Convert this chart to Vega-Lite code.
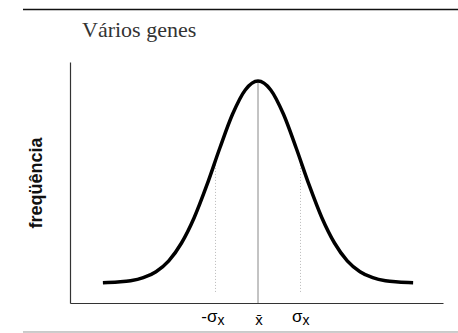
{
  "$schema": "https://vega.github.io/schema/vega-lite/v6.json",
  "width": 373,
  "height": 241,
  "autosize": {"type": "none"},
  "padding": {"left": 70, "top": 62, "right": 15, "bottom": 30},
  "background": "white",
  "title": {"text": "Vários genes", "anchor": "start", "frame": "group", "dx": 12, "offset": -55, "baseline": "bottom", "font": "Liberation Serif", "fontSize": 22, "fontWeight": "normal", "color": "#333333"},
  "config": {"view": {"stroke": null}},
  "datasets": {
    "curve": [
      {"x": -3.65, "y": 0.084}, {"x": -3.3, "y": 0.087}, {"x": -3.0, "y": 0.092}, {"x": -2.7, "y": 0.105},
      {"x": -2.4, "y": 0.130}, {"x": -2.1, "y": 0.175}, {"x": -1.8, "y": 0.249}, {"x": -1.5, "y": 0.355},
      {"x": -1.2, "y": 0.491}, {"x": -0.9, "y": 0.642}, {"x": -0.6, "y": 0.783}, {"x": -0.3, "y": 0.884},
      {"x": 0, "y": 0.921},
      {"x": 0.3, "y": 0.884}, {"x": 0.6, "y": 0.783}, {"x": 0.9, "y": 0.642}, {"x": 1.2, "y": 0.491},
      {"x": 1.5, "y": 0.355}, {"x": 1.8, "y": 0.249}, {"x": 2.1, "y": 0.175}, {"x": 2.4, "y": 0.130},
      {"x": 2.7, "y": 0.105}, {"x": 3.0, "y": 0.092}, {"x": 3.3, "y": 0.087}, {"x": 3.65, "y": 0.084}
    ],
    "mean": [{"x": 0, "y": 0, "y2": 0.921}],
    "sd": [{"x": -1, "y": 0.046, "y2": 0.585}, {"x": 1, "y": 0.046, "y2": 0.585}],
    "frameTop": [{"x": -5.53, "x2": 4.71, "y": 1.218}],
    "frameBottom": [{"x": -5.53, "x2": 4.71, "y": -0.1203}],
    "sigmaMain": [{"x": -1, "y": -0.079, "t": "-σ"}, {"x": 1, "y": -0.079, "t": "σ"}],
    "sigmaSub": [{"x": -1, "y": -0.091, "t": "x"}, {"x": 1, "y": -0.091, "t": "x"}],
    "meanLabel": [{"x": 0, "y": -0.091, "t": "x̄"}]
  },
  "encoding": {
    "x": {"field": "x", "type": "quantitative", "scale": {"domain": [-4.424, 4.353], "nice": false, "zero": false},
      "axis": {"title": null, "ticks": false, "labels": false, "grid": false, "domainColor": "#333333", "domainWidth": 1.2}},
    "y": {"field": "y", "type": "quantitative", "scale": {"domain": [0, 1], "nice": false, "zero": false},
      "axis": {"title": "freqüência", "titleFont": "Liberation Sans", "titleFontSize": 18, "titleFontWeight": "bold", "titleColor": "#111111", "titlePadding": 25, "ticks": false, "labels": false, "grid": false, "domainColor": "#333333", "domainWidth": 1.2}}
  },
  "layer": [
    {"data": {"name": "sd"}, "mark": {"type": "rule", "color": "#bbbbbb", "strokeWidth": 1, "strokeDash": [1, 2]}, "encoding": {"y2": {"field": "y2"}}},
    {"data": {"name": "mean"}, "mark": {"type": "rule", "color": "#888888", "strokeWidth": 1}, "encoding": {"y2": {"field": "y2"}}},
    {"data": {"name": "curve"}, "mark": {"type": "line", "color": "black", "strokeWidth": 3.5, "interpolate": "monotone"}, "encoding": {}},
    {"data": {"name": "frameTop"}, "mark": {"type": "rule", "color": "#111111", "strokeWidth": 1.5}, "encoding": {"x2": {"field": "x2"}}},
    {"data": {"name": "frameBottom"}, "mark": {"type": "rule", "color": "#999999", "strokeWidth": 1}, "encoding": {"x2": {"field": "x2"}}},
    {"data": {"name": "sigmaMain"}, "mark": {"type": "text", "align": "right", "baseline": "alphabetic", "dx": 2, "font": "Liberation Sans", "fontSize": 17, "color": "#000000"}, "encoding": {"text": {"field": "t"}}},
    {"data": {"name": "sigmaSub"}, "mark": {"type": "text", "align": "left", "baseline": "alphabetic", "dx": 2, "font": "Liberation Sans", "fontSize": 14, "color": "#000000"}, "encoding": {"text": {"field": "t"}}},
    {"data": {"name": "meanLabel"}, "mark": {"type": "text", "align": "center", "baseline": "alphabetic", "dx": 1, "font": "Liberation Sans", "fontSize": 15, "color": "#000000"}, "encoding": {"text": {"field": "t"}}}
  ]
}
